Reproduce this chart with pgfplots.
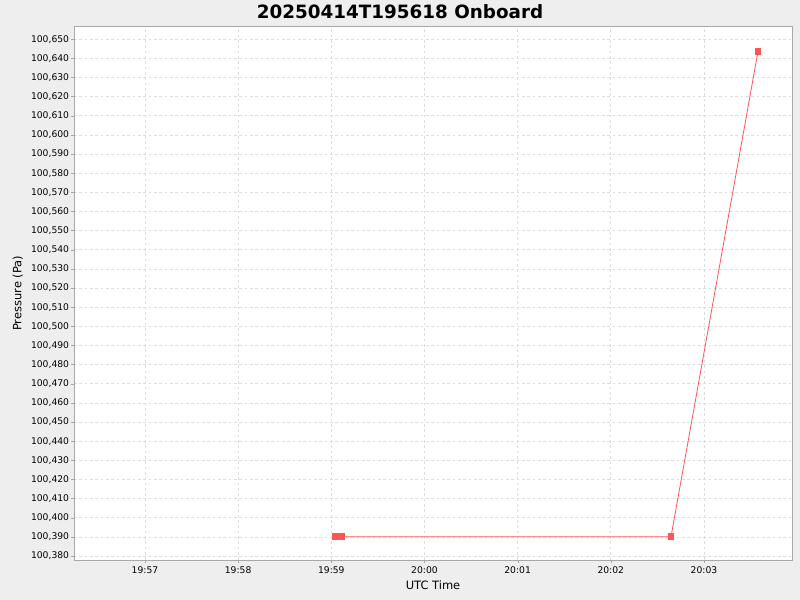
\documentclass[border=0pt]{standalone}
\usepackage{pgfplots}
\pgfplotsset{compat=1.18}
\usepackage{fontspec}
\setmainfont{DejaVu Sans}
\definecolor{bg}{HTML}{EEEEEE}
\definecolor{series}{HTML}{FF5555}
\definecolor{gridc}{HTML}{DDDDDD}
\definecolor{framec}{HTML}{A8A8A8}
\begin{document}
\begin{tikzpicture}[x=0.75pt,y=0.75pt]
\fill[bg] (0,0) rectangle (800,600);
\useasboundingbox (0,0) rectangle (800,600);
\node[font=\bfseries\fontsize{13.75}{15}\selectfont] at (400,588) {20250414T195618 Onboard};
\begin{axis}[
    at={(74*0.75pt,40*0.75pt)}, anchor=south west,
    scale only axis,
    width=718*0.75pt, height=533.5*0.75pt,
    xmin=56.238, xmax=63.945,
    ymin=100377.9, ymax=100656.6,
    xtick={57,58,59,60,61,62,63},
    xticklabels={19:57,19:58,19:59,20:00,20:01,20:02,20:03},
    ytick={100380,100390,...,100650},
    yticklabels={{100,380},{100,390},{100,400},{100,410},{100,420},{100,430},{100,440},
      {100,450},{100,460},{100,470},{100,480},{100,490},{100,500},{100,510},{100,520},
      {100,530},{100,540},{100,550},{100,560},{100,570},{100,580},{100,590},{100,600},
      {100,610},{100,620},{100,630},{100,640},{100,650}},
    scaled y ticks=false,
    tick label style={font=\fontsize{6.9}{8}\selectfont, text=black, inner sep=1pt},
    xticklabel style={yshift=-1pt},
    xlabel={UTC Time}, ylabel={Pressure (Pa)},
    label style={font=\fontsize{8.6}{10}\selectfont},
    xlabel style={at={(rel axis cs:0.5,0)}, anchor=center, yshift=-19.1pt},
    ylabel style={at={(rel axis cs:0,0.5)}, anchor=center, yshift=42.15pt},
    axis line style={framec},
    tick style={framec},
    tick align=outside, major tick length=2.5pt,
    xtick pos=bottom, ytick pos=left,
    grid=major,
    major grid style={gridc, dash pattern=on 2pt off 2pt, line width=0.5pt},
    axis background/.style={fill=white},
]
\addplot[color=series, line width=0.6pt, mark=square*, mark size=2.2pt,
  mark options={fill=series, draw=series, line width=0pt}] coordinates {
    (59.049,100390) (59.107,100390) (62.646,100390) (63.58,100643.6)
};
\end{axis}
\end{tikzpicture}
\end{document}
